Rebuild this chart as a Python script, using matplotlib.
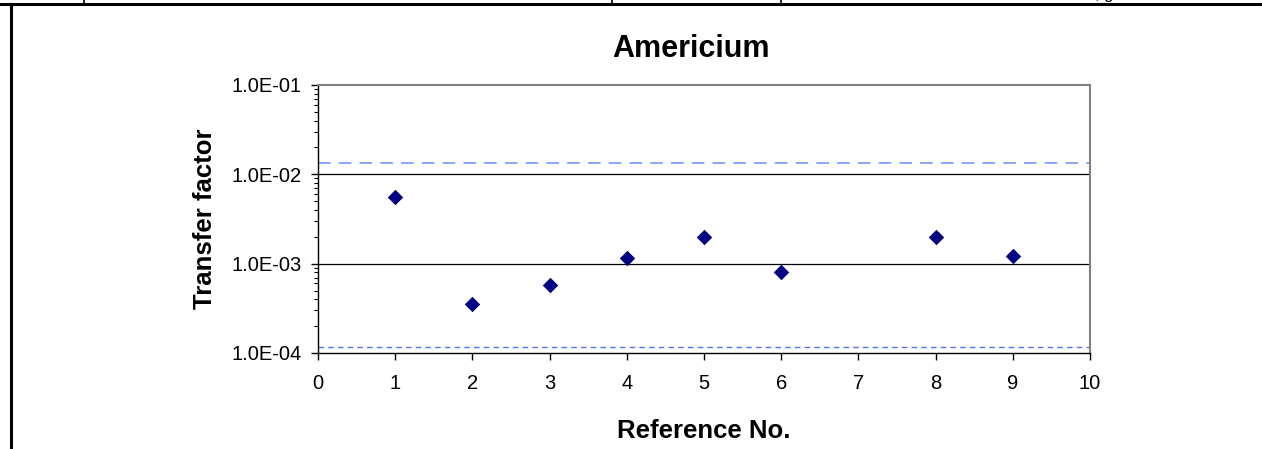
import matplotlib
matplotlib.use("Agg")
import matplotlib.pyplot as plt
from matplotlib.ticker import LogLocator, FixedLocator, NullFormatter
from matplotlib.lines import Line2D

plt.rcParams['font.family'] = ['Liberation Sans', 'DejaVu Sans']

title = "Americium"
x_label = "Reference No."
y_label = "Transfer factor"
ref_no = [1, 2, 3, 4, 5, 6, 8, 9]
transfer_factor = [5.6e-3, 3.55e-4, 5.7e-4, 1.17e-3, 1.97e-3, 8.1e-4, 1.97e-3, 1.22e-3]
upper_limit = 1.33e-2
lower_limit = 1.17e-4
x_ticks = list(range(0, 11))
y_ticks = [1e-4, 1e-3, 1e-2, 1e-1]
y_tick_labels = ["1.0E-04", "1.0E-03", "1.0E-02", "1.0E-01"]

W, H = 1262, 449
fig = plt.figure(figsize=(W / 100, H / 100), dpi=100)

def fx(px):
    return px / W

def fy(py):
    return 1 - py / H

# clipped text fragment from the page above
fig.text(fx(1095), fy(-1.5), ", g", fontsize=12, ha='left', va='baseline')

# outer frame lines (page cell borders)
fig.add_artist(Line2D([0, 1], [fy(3.5), fy(3.5)], color='black', lw=2.2, transform=fig.transFigure))
fig.add_artist(Line2D([fx(11), fx(11)], [0, fy(3.5)], color='black', lw=2.2, transform=fig.transFigure))
for xp in [84, 612, 781]:
    fig.add_artist(Line2D([fx(xp), fx(xp)], [fy(3.5), 1], color='black', lw=1.2, transform=fig.transFigure))

ax = fig.add_axes([fx(318), fy(353), fx(1090) - fx(318), fy(85) - fy(353)])
ax.set_yscale('log')
ax.set_xlim(0, 10)
ax.set_ylim(1e-4, 1e-1)

for g in [1e-3, 1e-2]:
    ax.axhline(g, color='black', lw=0.9, zorder=1)

ax.axhline(upper_limit, color='#7f9fff', lw=1.3, dashes=(7, 4.5), zorder=2)
ax.axhline(lower_limit, color='#4a78f0', lw=1.0, dashes=(4, 3), zorder=2)

ax.scatter(ref_no, transfer_factor, marker='D', s=62, color='#000080', zorder=3, linewidths=0)

ax.xaxis.set_major_locator(FixedLocator(x_ticks))
ax.yaxis.set_major_locator(FixedLocator(y_ticks))
ax.set_yticklabels(y_tick_labels)
ax.yaxis.set_minor_locator(LogLocator(base=10, subs=range(2, 10)))
ax.yaxis.set_minor_formatter(NullFormatter())

ax.tick_params(axis='both', which='major', direction='out', length=5, width=1, labelsize=14.5)
ax.tick_params(axis='y', which='major', pad=7)
ax.tick_params(axis='x', which='major', pad=10)
ax.tick_params(axis='y', which='minor', direction='out', length=3, width=0.8)

for s in ['top', 'right']:
    ax.spines[s].set_color('#808080')
    ax.spines[s].set_linewidth(1.5)
for s in ['left', 'bottom']:
    ax.spines[s].set_color('black')
    ax.spines[s].set_linewidth(1.0)

fig.text(fx(691), fy(57), title, fontsize=22, fontweight='bold', ha='center', va='baseline')
fig.text(fx(704), fy(438), x_label, fontsize=18.5, fontweight='bold', ha='center', va='baseline')
fig.text(fx(212), fy(219), y_label, fontsize=18.5, fontweight='bold', ha='center', va='baseline',
         rotation=90, rotation_mode='anchor')

fig.savefig("out.png", dpi=100)
